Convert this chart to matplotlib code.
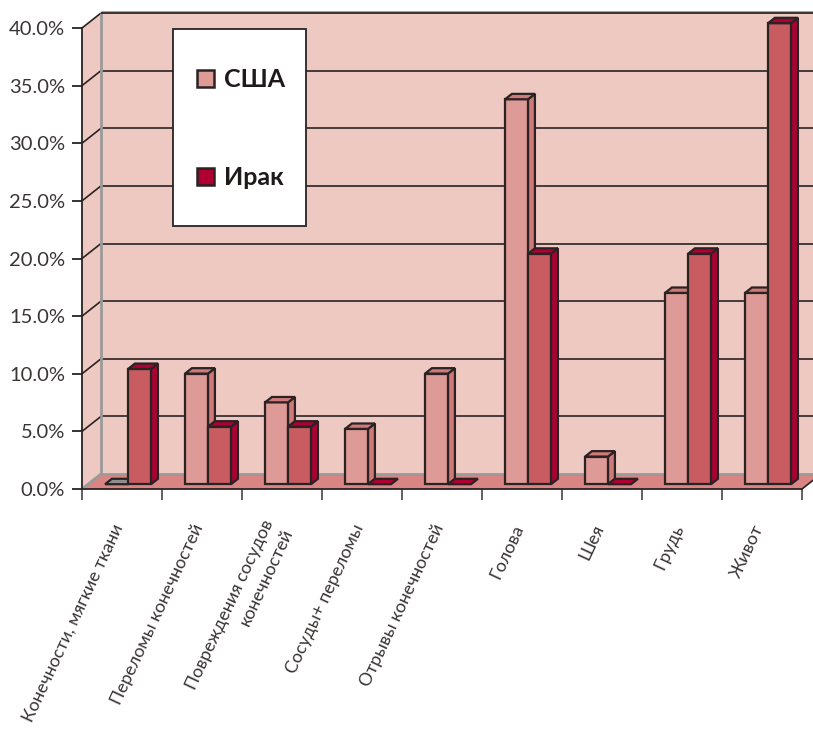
# 3D-look clustered column chart, drawn by hand on a flat axes
import matplotlib
matplotlib.use('agg')
import matplotlib.pyplot as plt
from matplotlib.patches import Patch, Polygon, Rectangle

plt.rcParams['font.family'] = ['Lato', 'Open Sans', 'DejaVu Sans']

categories = ['Конечности, мягкие ткани', 'Переломы конечностей',
              'Повреждения сосудов\nконечностей', 'Сосуды+ переломы',
              'Отрывы конечностей', 'Голова', 'Шея', 'Грудь', 'Живот']
usa = [0, 9.6, 7.1, 4.8, 9.6, 33.4, 2.4, 16.6, 16.6]
iraq = [10, 5, 5, 0, 0, 20, 0, 20, 40]
yticks = [0, 5, 10, 15, 20, 25, 30, 35, 40]

W, H = 813, 730
LEFT, RIGHT, BOTTOM, TOP = 82, 802, 489, 28

# wall depth in data units
DX = 19 / 80
DY = 15 / ((BOTTOM - TOP) / 40)

WALL = '#EEC9C2'
FLOOR = '#D98583'
LINE = '#2A2223'
GREY = '#9A9A9A'

fig = plt.figure(figsize=(W / 100, H / 100), dpi=100)
ax = fig.add_axes([LEFT / W, 1 - BOTTOM / H, (RIGHT - LEFT) / W, (BOTTOM - TOP) / H])
ax.set_xlim(0, len(categories))
ax.set_ylim(0, 40)
ax.patch.set_visible(False)


def pt(x, y, d):
    # oblique projection: d=0 is the front plane, d=1 the back wall
    return (x + d * DX, y + d * DY)


def poly(points, face, edge=LINE, lw=1.6, z=3):
    ax.add_patch(Polygon(points, closed=True, facecolor=face, edgecolor=edge,
                         linewidth=lw, clip_on=False, zorder=z, joinstyle='miter'))


def seg(a, b, color=LINE, lw=1.2, z=1.95):
    ax.plot([a[0], b[0]], [a[1], b[1]], color=color, lw=lw, clip_on=False, zorder=z, solid_capstyle='butt')


n = len(categories)
# back wall, side wall, floor
poly([pt(0, 0, 1), pt(n, 0, 1), pt(n, 40, 1), pt(0, 40, 1)], WALL, edge='none', z=1)
poly([pt(0, 0, 0), pt(0, 0, 1), pt(0, 40, 1), pt(0, 40, 0)], WALL, edge='none', z=1)

for v in yticks[1:]:
    seg(pt(0, v, 0), pt(0, v, 1), z=1.5)
    seg(pt(0, v, 1), pt(n, v, 1), z=1.5)

poly([pt(0, 0, 0), pt(n, 0, 0), pt(n, 0, 1), pt(0, 0, 1)], FLOOR, edge='none', z=1.8)

# grey edges where the walls meet
seg(pt(0, 0, 1), pt(0, 40, 1), GREY, 2, 1.9)
seg(pt(0, 0, 1), pt(n, 0, 1), GREY, 2, 1.9)
seg(pt(0, 0, 0), pt(0, 0, 1), GREY, 2, 1.9)
seg(pt(0, 40.12, 1), pt(n, 40.12, 1), GREY, 2, 1.9)
seg(pt(0, 40, 1), pt(n, 40, 1))
seg(pt(n, 0, 0), pt(n, 0, 1))

# columns
BW = 23 / 80
GAP = (1 - 2 * BW) / 2
D0, D1 = 0.32, 0.68


def column(x, v, front, shade, top, z):
    x1 = x + BW
    if v > 0:
        poly([pt(x, 0, D0), pt(x1, 0, D0), pt(x1, v, D0), pt(x, v, D0)], front, z=z)
        poly([pt(x1, 0, D0), pt(x1, 0, D1), pt(x1, v, D1), pt(x1, v, D0)], shade, z=z)
    poly([pt(x, v, D0), pt(x1, v, D0), pt(x1, v, D1), pt(x, v, D1)], top, z=z)


for i in range(n):
    # an empty US column leaves a grey footprint on the floor
    column(i + GAP, usa[i], '#DE9A96', '#CF7A78', '#8E8E8E' if usa[i] == 0 else '#CF7A78', 3 + i * 0.1)
    column(i + GAP + BW, iraq[i], '#C85C60', '#B00033', '#B00033', 3.05 + i * 0.1)

ax.spines['top'].set_visible(False)
ax.spines['right'].set_visible(False)
for s in ['left', 'bottom']:
    ax.spines[s].set_color(LINE)
    ax.spines[s].set_linewidth(1.3)
    ax.spines[s].set_zorder(2.5)

ax.set_yticks(yticks)
ax.set_yticklabels(['%.1f%%' % v for v in yticks], color='#3A3535', fontsize=14.5)
ax.tick_params(axis='y', length=7.2, width=1.3, color=LINE, pad=5)
ax.set_xticks(range(n + 1))
ax.set_xticklabels([])
ax.tick_params(axis='x', length=8, width=1.3, color='#555555')

for i, name in enumerate(categories):
    ax.annotate(name, xy=(i + 0.5, 0), xytext=(-2, -26), textcoords='offset points',
                rotation=65, rotation_mode='anchor', ha='right', va='center',
                multialignment='right', fontsize=12.8, linespacing=1.45, color='#3A3535',
                annotation_clip=False)

# legend box
x0, y0, x1, y1 = 172.5, 29, 306, 226
fig.add_artist(Rectangle((x0 / W, 1 - y1 / H), (x1 - x0) / W, (y1 - y0) / H, transform=fig.transFigure,
                         facecolor='white', edgecolor=LINE, linewidth=1.3, zorder=5))
handles = [Patch(facecolor='#DE9A96', edgecolor=LINE, linewidth=1.8, label='США'),
           Patch(facecolor='#B00033', edgecolor=LINE, linewidth=1.8, label='Ирак')]
leg = fig.legend(handles=handles, loc='upper left', bbox_to_anchor=(197 / W, 1 - 68 / H), frameon=False,
                 fontsize=18, labelspacing=3.0, handlelength=0.68, handleheight=0.68, handletextpad=0.4,
                 borderpad=0, borderaxespad=0, labelcolor='#1E1A1A')
leg.set_zorder(6)
for t in leg.get_texts():
    t.set_fontweight('bold')

fig.savefig('out.png', dpi=100)
